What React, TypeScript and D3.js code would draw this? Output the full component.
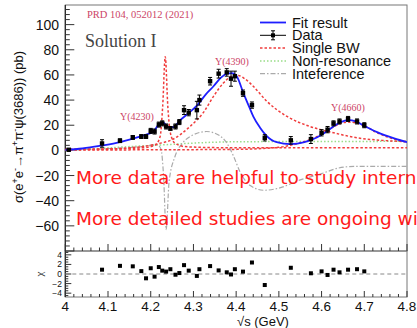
import React from "react";
import * as d3 from "d3";

// ---- data ----
const energies = [4.008, 4.086, 4.128, 4.158, 4.178, 4.189, 4.200, 4.209, 4.219, 4.227, 4.236, 4.246, 4.258, 4.267, 4.278, 4.289, 4.308, 4.314, 4.339, 4.359, 4.378, 4.388, 4.397, 4.416, 4.437, 4.467, 4.528, 4.575, 4.600, 4.614, 4.628, 4.642, 4.662, 4.683, 4.700];
const xsec = [0.5, 5.5, 7.7, 10.3, 11, 11, 15.5, 15, 20.5, 21.5, 19, 17.5, 19, 22.5, 32, 30, 32, 40, 55, 61, 62, 57, 59, 45.5, 36, 10, 8, 9, 14, 16.5, 21.5, 23, 25, 23, 20];
const xsecErr = [0.8, 3, 1.5, 1.5, 1.5, 1.5, 2, 2, 2, 2, 2, 1.5, 2, 2, 3.5, 2.5, 7, 4, 3, 3.5, 3, 6, 4, 2.5, 2.5, 2.5, 3, 3.5, 2.5, 2.5, 2, 2, 2, 2, 2];

const residE = [4.086, 4.128, 4.158, 4.178, 4.189, 4.200, 4.209, 4.219, 4.227, 4.236, 4.246, 4.258, 4.267, 4.278, 4.289, 4.308, 4.314, 4.339, 4.359, 4.378, 4.388, 4.397, 4.416, 4.437, 4.467, 4.528, 4.575, 4.600, 4.614, 4.628, 4.642, 4.662, 4.683, 4.700];
const chi = [0.9, 1.7, 1.6, 0.6, -0.9, 1.2, -0.55, 1.45, 0.7, 0.5, 1.0, -0.15, 0.2, 1.85, 0.7, -0.4, 1.0, 1.65, 0.75, 0.35, -0.1, 1.0, 0.5, 2.4, -2.3, 1.3, 0.15, 0.55, -0.2, 0.9, 0.35, 0.9, 1.0, 0.55];

const fitCurve: [number, number][] = [
  [4.0, 0.3], [4.04, 1.5], [4.08, 3.5], [4.12, 6], [4.15, 8.5], [4.18, 11.5], [4.206, 15], [4.222, 21.5], [4.23, 22], [4.241, 18.5], [4.253, 18.5], [4.269, 24], [4.29, 30], [4.308, 35.5], [4.33, 45], [4.347, 51], [4.365, 58], [4.378, 61], [4.39, 61.5], [4.402, 58.5], [4.417, 45.5], [4.43, 35], [4.44, 27], [4.456, 18], [4.47, 12], [4.495, 6.5], [4.527, 5], [4.56, 6.5], [4.59, 10.5], [4.612, 15], [4.63, 19.5], [4.645, 22.5], [4.663, 24], [4.68, 23], [4.7, 19.5], [4.73, 14.5], [4.77, 9.5], [4.8, 6.5],
];
const bw4230: [number, number][] = [
  [4.0, 1.0], [4.1, 1.2], [4.18, 2], [4.21, 4], [4.222, 11], [4.228, 35], [4.234, 74.5], [4.240, 35], [4.246, 14], [4.256, 6], [4.28, 3], [4.35, 2.2], [4.5, 2], [4.8, 2],
];
const bw4390: [number, number][] = [
  [4.0, 0.5], [4.1, 1], [4.15, 2], [4.19, 3.5], [4.22, 5.5], [4.25, 8.5], [4.292, 19], [4.323, 30], [4.347, 43], [4.37, 53.5], [4.39, 59], [4.405, 59.5], [4.42, 57], [4.44, 51], [4.472, 39], [4.519, 27], [4.573, 19], [4.628, 14], [4.683, 10], [4.74, 8], [4.8, 7],
];
const bw4660: [number, number][] = [
  [4.0, 0.3], [4.4, 0.8], [4.5, 2.5], [4.55, 6], [4.58, 9.5], [4.61, 15], [4.635, 20], [4.66, 22.5], [4.68, 22], [4.7, 19.5], [4.73, 14], [4.77, 9], [4.8, 6.5],
];
const nonRes: [number, number][] = [
  [4.0, 0], [4.05, 1], [4.1, 2], [4.15, 3], [4.2, 3.9], [4.25, 4.8], [4.3, 5.8], [4.35, 6.5], [4.4, 6.9], [4.5, 7], [4.8, 7.2],
];
const interf: [number, number][] = [
  [4.0, 0], [4.1, 1.5], [4.18, 3], [4.215, 4.5], [4.224, 1], [4.230, -20], [4.236, -63], [4.243, -25], [4.257, -4.7], [4.275, 6], [4.292, 11], [4.331, 15], [4.36, 12], [4.378, 5.9], [4.394, -4.7], [4.409, -17], [4.433, -28], [4.465, -31.7], [4.5, -30], [4.55, -23.5], [4.6, -18.5], [4.64, -14], [4.68, -12.7], [4.8, -12.7],
];

const xTicks = [4, 4.1, 4.2, 4.3, 4.4, 4.5, 4.6, 4.7, 4.8];
const xTickLabels = ["4", "4.1", "4.2", "4.3", "4.4", "4.5", "4.6", "4.7", "4.8"];
const yTicks = [-60, -40, -20, 0, 20, 40, 60, 80, 100];
const rTicks = [-4, -2, 0, 2, 4];
const legendLabels = ["Fit result", "Data", "Single BW", "Non-resonance", "Inteference"];
const resonanceLabels = ["Y(4230)", "Y(4390)", "Y(4660)"];

export default function App() {
  const L = 65.3, R = 407, T = 5, B = 251, RB = 297;
  const x = d3.scaleLinear().domain([4, 4.8]).range([L, R]);
  const y = d3.scaleLinear().domain([-80, 115.6]).range([B, T]);
  const r = d3.scaleLinear().domain([-4.8, 4.8]).range([RB, B]);
  const line = d3.line<[number, number]>().x(d => x(d[0])).y(d => y(d[1])).curve(d3.curveMonotoneX);

  const minorX = d3.range(4, 4.8001, 0.02);
  const minorY = d3.range(-80, 115, 4);
  const minorR = d3.range(-4.5, 4.6, 0.5);

  const red = "#f03c3c";
  const blue = "#1e1eff";
  const green = "#99dd88";
  const gray = "#aaaaaa";
  const pink = "#cc4466";
  const sans = "'Liberation Sans', Arial, Helvetica, sans-serif";
  const serif = "'Liberation Serif', 'Times New Roman', serif";

  const legY = (i: number) => 22.5 + i * 12.8;

  return (
    <svg width={417} height={328} style={{ position: "absolute", left: 0, top: 0, background: "#fff" }}>
      <defs>
        <clipPath id="mainclip"><rect x={L} y={T} width={R - L} height={B - T} /></clipPath>
      </defs>
      <rect x={0} y={0} width={417} height={328} fill="#fff" />

      {/* frames */}
      <rect x={L} y={T} width={R - L} height={B - T} fill="none" stroke="#777" strokeWidth={1} />
      <rect x={L} y={B} width={R - L} height={RB - B} fill="none" stroke="#777" strokeWidth={1} />
      <line x1={L} x2={L} y1={T} y2={RB} stroke="#222" strokeWidth={1.2} />

      {/* main y ticks */}
      {minorY.map((v, i) => (
        <line key={"my" + i} x1={L} x2={L + (v % 20 === 0 ? 9 : 4.5)} y1={y(v)} y2={y(v)} stroke="#333" strokeWidth={1} />
      ))}
      {yTicks.map((v, i) => (
        <text key={"yl" + i} x={59} y={y(v) + 5} textAnchor="end" fontFamily={sans} fontSize={14} fill="#111">
          {v < 0 ? "\u2212" + Math.abs(v) : String(v)}
        </text>
      ))}
      {/* x ticks on main bottom and residual bottom */}
      {minorX.map((v, i) => {
        const major = Math.abs(v * 10 - Math.round(v * 10)) < 1e-6;
        return (
          <g key={"mx" + i}>
            <line x1={x(v)} x2={x(v)} y1={B} y2={B - (major ? 7 : 3.5)} stroke="#333" strokeWidth={1} />
            <line x1={x(v)} x2={x(v)} y1={RB} y2={RB - (major ? 6 : 3)} stroke="#333" strokeWidth={1} />
          </g>
        );
      })}
      {xTicks.map((v, i) => (
        <text key={"xl" + i} x={x(v)} y={311} textAnchor="middle" fontFamily={sans} fontSize={13.5} fill="#111">{xTickLabels[i]}</text>
      ))}
      <text x={263} y={326} textAnchor="middle" fontFamily={sans} fontSize={13} fill="#111">{"\u221As (GeV)"}</text>

      {/* residual y ticks */}
      {minorR.map((v, i) => (
        <line key={"ry" + i} x1={L} x2={L + (Math.abs(v % 2) < 1e-6 ? 6 : 3)} y1={r(v)} y2={r(v)} stroke="#333" strokeWidth={1} />
      ))}
      {rTicks.map((v, i) => (
        <text key={"rl" + i} x={62} y={r(v) + 3} textAnchor="end" fontFamily={sans} fontSize={8.5} fill="#111">
          {v < 0 ? "\u2212" + Math.abs(v) : String(v)}
        </text>
      ))}
      <text transform={`translate(43,${r(0)}) rotate(-90)`} textAnchor="middle" fontFamily={serif} fontSize={11} fill="#333">χ</text>
      <line x1={L} x2={R} y1={r(0)} y2={r(0)} stroke="#888" strokeWidth={1} strokeDasharray="4,3" />
      {residE.map((e, i) => (
        <rect key={"rp" + i} x={x(e) - 2} y={r(chi[i]) - 2} width={4} height={4} fill="#000" />
      ))}

      {/* y axis title */}
      <text transform="translate(23,127) rotate(-90)" textAnchor="middle" fontFamily={sans} fontSize={13} fill="#111">
        σ(e<tspan dy={-5} fontSize={9}>+</tspan><tspan dy={5}>e</tspan><tspan dy={-5} fontSize={9}>-</tspan><tspan dy={5}>→π</tspan><tspan dy={-5} fontSize={9}>+</tspan><tspan dy={5}>π</tspan><tspan dy={-5} fontSize={9}>-</tspan><tspan dy={5}>ψ(3686)) (pb)</tspan>
      </text>

      {/* curves */}
      <g clipPath="url(#mainclip)" fill="none">
        <path d={line(nonRes) || ""} stroke={green} strokeWidth={1.5} strokeDasharray="1.5,2" />
        <path d={line(interf) || ""} stroke={gray} strokeWidth={1.2} strokeDasharray="5,2,1.5,2" />
        <path d={line(bw4230) || ""} stroke={red} strokeWidth={1.5} strokeDasharray="2.5,2" />
        <path d={line(bw4390) || ""} stroke={red} strokeWidth={1.5} strokeDasharray="2.5,2" />
        <path d={line(bw4660) || ""} stroke={red} strokeWidth={1.5} strokeDasharray="2.5,2" />
        <path d={line(fitCurve) || ""} stroke={blue} strokeWidth={1.8} />
      </g>

      {/* data */}
      {energies.map((e, i) => {
        const cx = x(e), cy = y(xsec[i]);
        const y1 = y(xsec[i] + xsecErr[i]), y2 = y(xsec[i] - xsecErr[i]);
        return (
          <g key={"d" + i}>
            <line x1={cx} x2={cx} y1={y1} y2={y2} stroke="#000" strokeWidth={1} />
            <line x1={cx - 2} x2={cx + 2} y1={y1} y2={y1} stroke="#000" strokeWidth={1} />
            <line x1={cx - 2} x2={cx + 2} y1={y2} y2={y2} stroke="#000" strokeWidth={1} />
            <rect x={cx - 2.2} y={cy - 2.2} width={4.4} height={4.4} fill="#000" />
          </g>
        );
      })}

      {/* annotations */}
      <text x={87} y={18} fontFamily={serif} fontSize={10.5} fill={pink}>PRD 104, 052012 (2021)</text>
      <text x={85} y={47} fontFamily={serif} fontSize={18} fill="#444">Solution I</text>
      <text x={120} y={120} fontFamily={serif} fontSize={10} fill={pink}>{resonanceLabels[0]}</text>
      <text x={215} y={65} fontFamily={serif} fontSize={10} fill={pink}>{resonanceLabels[1]}</text>
      <text x={331} y={111} fontFamily={serif} fontSize={10} fill={pink}>{resonanceLabels[2]}</text>

      {/* legend */}
      <g fontFamily={sans} fontSize={14.5} fill="#111">
        <line x1={260} x2={286} y1={legY(0)} y2={legY(0)} stroke={blue} strokeWidth={1.8} />
        <line x1={260} x2={286} y1={legY(1)} y2={legY(1)} stroke="#000" strokeWidth={1} />
        <line x1={273} x2={273} y1={legY(1) - 4.5} y2={legY(1) + 4.5} stroke="#000" strokeWidth={1} />
        <line x1={271} x2={275} y1={legY(1) - 4.5} y2={legY(1) - 4.5} stroke="#000" strokeWidth={1} />
        <line x1={271} x2={275} y1={legY(1) + 4.5} y2={legY(1) + 4.5} stroke="#000" strokeWidth={1} />
        <rect x={271} y={legY(1) - 2} width={4} height={4} fill="#000" />
        <line x1={260} x2={286} y1={legY(2)} y2={legY(2)} stroke={red} strokeWidth={1.5} strokeDasharray="2.5,2" />
        <line x1={260} x2={286} y1={legY(3)} y2={legY(3)} stroke={green} strokeWidth={1.5} strokeDasharray="1.5,2" />
        <line x1={260} x2={286} y1={legY(4)} y2={legY(4)} stroke={gray} strokeWidth={1.2} strokeDasharray="5,2,1.5,2" />
        {legendLabels.map((t, i) => (
          <text key={"lg" + i} x={292} y={legY(i) + 5}>{t}</text>
        ))}
      </g>

      {/* overlay red text */}
      <g fontFamily="'DejaVu Sans', sans-serif" fontSize={18.5} fill="#ff1a1a">
        <text x={76} y={184}>More data are helpful to study internal structures</text>
        <text x={76} y={225}>More detailed studies are ongoing with more data</text>
      </g>
    </svg>
  );
}
